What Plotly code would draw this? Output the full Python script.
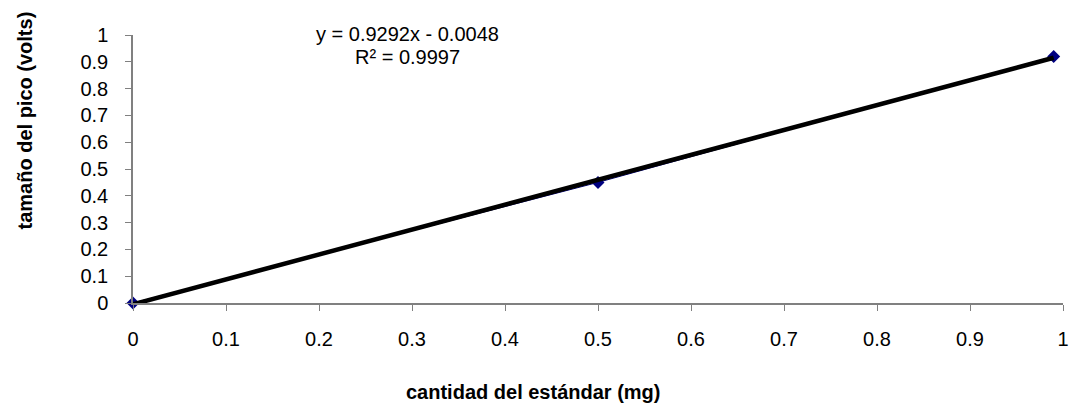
import numpy as np
import plotly.graph_objects as go

# Data
cantidad = [0, 0.5, 0.99]          # mg
pico = [0, 0.45, 0.92]             # volts
tick_vals = [0, 0.1, 0.2, 0.3, 0.4, 0.5, 0.6, 0.7, 0.8, 0.9, 1]
tick_text = ["0", "0.1", "0.2", "0.3", "0.4", "0.5", "0.6", "0.7", "0.8", "0.9", "1"]
eq_text = "y = 0.9292x - 0.0048"
r2_text = "R² = 0.9997"
x_title = "cantidad del estándar (mg)"
y_title = "tamaño del pico (volts)"

slope, intercept = np.polyfit(cantidad, pico, 1)
trend_x = [min(cantidad), max(cantidad)]
trend_y = [slope * v + intercept for v in trend_x]

FONT = "Liberation Sans, Arial, sans-serif"
AXIS_COLOR = "#808080"

fig = go.Figure()
fig.add_trace(go.Scatter(
    x=cantidad, y=pico, mode="lines+markers",
    line=dict(color="#000080", width=1),
    marker=dict(symbol="diamond", size=10, color="#000080"),
    showlegend=False, cliponaxis=False,
))
fig.add_trace(go.Scatter(
    x=trend_x, y=trend_y, mode="lines",
    line=dict(color="black", width=4.5),
    showlegend=False,
))

fig.update_layout(
    width=1071, height=408,
    margin=dict(l=133, r=8, t=35, b=105, autoexpand=False),
    paper_bgcolor="white", plot_bgcolor="white",
    font=dict(family=FONT, size=20, color="black"),
    showlegend=False,
)
fig.update_xaxes(
    range=[0, 1], tickvals=tick_vals, ticktext=tick_text,
    showgrid=False, zeroline=False, automargin=False,
    showline=True, linecolor=AXIS_COLOR, linewidth=1.5,
    ticks="outside", ticklen=6, tickcolor=AXIS_COLOR, tickwidth=1,
    ticklabelstandoff=11,
    tickfont=dict(family=FONT, size=20, color="black"),
)
fig.update_yaxes(
    range=[0, 1], tickvals=tick_vals, ticktext=tick_text,
    showgrid=False, zeroline=False, automargin=False,
    showline=True, linecolor=AXIS_COLOR, linewidth=1.5,
    ticks="outside", ticklen=6, tickcolor=AXIS_COLOR, tickwidth=1,
    ticklabelstandoff=13,
    tickfont=dict(family=FONT, size=20, color="black"),
)

fig.add_annotation(
    text=eq_text, xref="paper", yref="paper",
    x=(407 - 133) / 930, y=1 + (35.5 - 35) / 268,
    xanchor="center", yanchor="middle", showarrow=False,
    font=dict(family=FONT, size=20, color="black"),
)
fig.add_annotation(
    text=r2_text, xref="paper", yref="paper",
    x=(407 - 133) / 930, y=1 - (57 - 35.5) / 268,
    xanchor="center", yanchor="middle", showarrow=False,
    font=dict(family=FONT, size=20, color="black"),
)
fig.add_annotation(
    text="<b>" + x_title + "</b>", xref="paper", yref="paper",
    x=(533.5 - 133) / 930, y=-(392 - 303.5) / 268,
    xanchor="center", yanchor="middle", showarrow=False,
    font=dict(family=FONT, size=20, color="black"),
)
fig.add_annotation(
    text="<b>" + y_title + "</b>", xref="paper", yref="paper",
    x=(24 - 133) / 930, y=1 - (121 - 35.5) / 268,
    xanchor="center", yanchor="middle", showarrow=False, textangle=-90,
    font=dict(family=FONT, size=20, color="black"),
)

fig.write_html("out.html", config={"displayModeBar": False},
               post_script="document.body.style.margin='0';")
